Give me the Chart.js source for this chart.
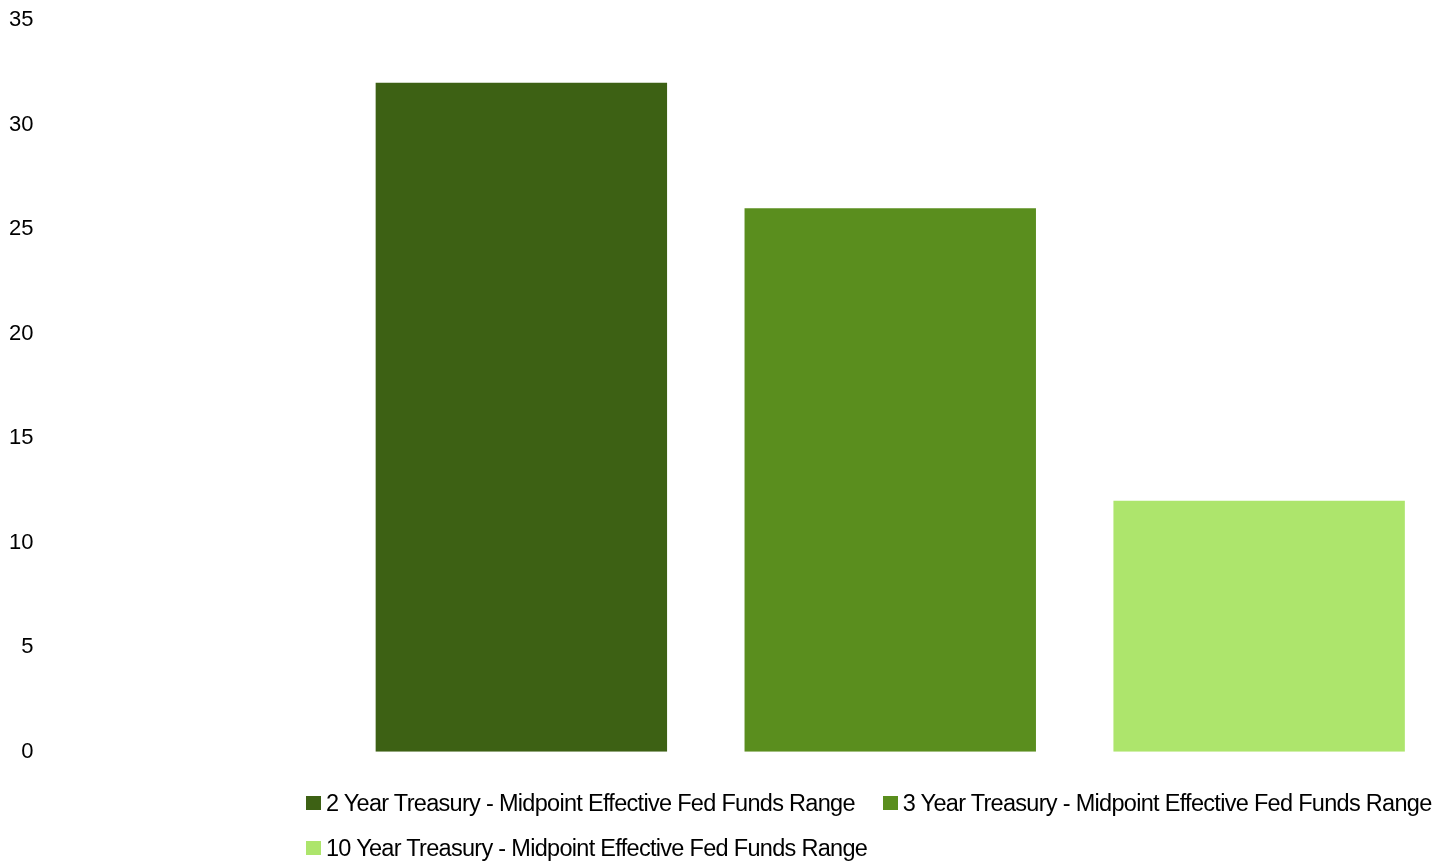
<!DOCTYPE html>
<html>
<head>
<meta charset="utf-8">
<script src="https://cdn.jsdelivr.net/npm/chart.js@4"></script>
<style>
  body { margin: 0; background: #fff; }
  .programming-stats { position: relative; width: 1433px; height: 862px; overflow: hidden; }
  .programming-stats canvas { position: absolute; left: 0; top: 0; }
  .details { position: absolute; left: 306px; top: 788px; width: 1140px; }
  .details ul { list-style: none; margin: 0; padding: 0; display: flex; flex-wrap: wrap; column-gap: 28px; row-gap: 15px; }
  .details li { display: flex; align-items: center; height: 30px; font-family: 'Liberation Sans', Arial, sans-serif; font-size: 23.5px; letter-spacing: -0.7px; color: #000; white-space: nowrap; }
  .details li .caja { width: 15px; height: 14px; margin-right: 5px; }
</style>
</head>
<body>
<div class="programming-stats">
  <canvas class="my-chart" width="1433" height="862"></canvas>
  <div class="details"><ul></ul></div>
</div>
<script>
// datos de la grafica
var categorias = [''];
var series = [
  '2 Year Treasury - Midpoint Effective Fed Funds Range',
  '3 Year Treasury - Midpoint Effective Fed Funds Range',
  '10 Year Treasury - Midpoint Effective Fed Funds Range'
];
var valores = [32, 26, 12];
var ticksY = [0, 5, 10, 15, 20, 25, 30, 35];

var colores = ['#3D6114', '#5A8E1E', '#ADE56C'];

const myChart = document.querySelector(".my-chart");
const ul = document.querySelector(".details ul");

Chart.defaults.font.family = "'Liberation Sans', Arial, sans-serif";
Chart.defaults.color = '#000';

const datasets = series.map(function(nombre, i) {
  return {
    label: nombre,
    data: [valores[i]],
    backgroundColor: colores[i],
    borderWidth: 0,
  };
});

new Chart(myChart, {
  type: "bar",
  data: {
    labels: categorias,
    datasets: datasets,
  },
  options: {
    responsive: false,
    animation: false,
    categoryPercentage: 1.0195,
    barPercentage: 0.79,
    layout: {
      padding: { top: 20, bottom: 110.3, left: 0, right: 0 },
    },
    scales: {
      x: {
        display: false,
      },
      y: {
        min: ticksY[0],
        max: ticksY[ticksY.length - 1],
        border: { display: false },
        grid: { display: false, drawTicks: false },
        ticks: {
          stepSize: ticksY[1] - ticksY[0],
          padding: 314,
          font: { size: 22 },
          color: '#000',
        },
        afterFit: function(scale) {
          // el padding grande solo es para mover las etiquetas a la izquierda
          scale.width = 347.5;
          scale.paddingTop = 0;
          scale.paddingBottom = 0;
        },
      },
    },
    plugins: {
      legend: { display: false },
      tooltip: { enabled: false },
    },
  },
});

// leyenda en html
const populateUl = () => {
  series.forEach((l, i) => {
    let li = document.createElement("li");
    li.innerHTML = `<span class='caja' style='background:${colores[i]}'></span>${l}`;
    ul.appendChild(li);
  });
};

populateUl();
</script>
</body>
</html>
